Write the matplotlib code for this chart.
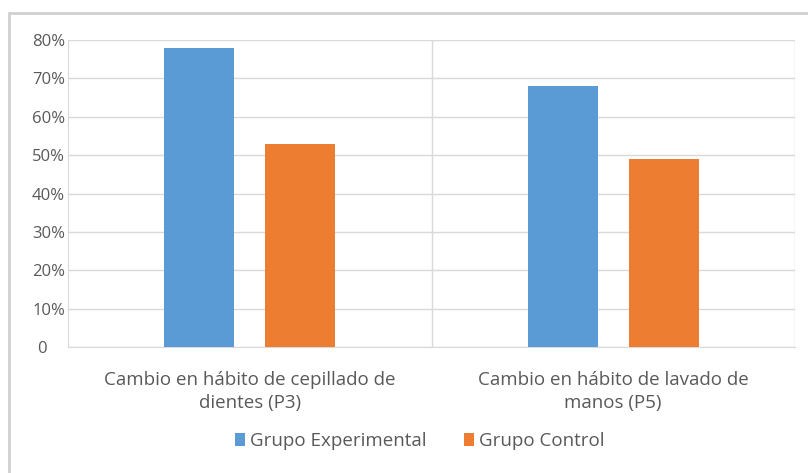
import numpy as np
import matplotlib.pyplot as plt
from matplotlib.patches import Rectangle

categories = ['Cambio en hábito de cepillado de\ndientes (P3)',
              'Cambio en hábito de lavado de\nmanos (P5)']
experimental = [78, 68]
control = [53, 49]
yticks = [0, 10, 20, 30, 40, 50, 60, 70, 80]
ytick_labels = ['0    ', '10%', '20%', '30%', '40%', '50%', '60%', '70%', '80%']

plt.rcParams['font.family'] = ['Open Sans', 'DejaVu Sans']
text_col = '#595959'
grid_col = '#d9d9d9'

fig = plt.figure(figsize=(8.08, 4.73), dpi=100)
# outer chart border
fig.patches.append(Rectangle((9 / 808, -0.01), 1.0, 1 - 13 / 473 + 0.01,
                             transform=fig.transFigure, fill=False,
                             edgecolor='#d0d0d0', linewidth=2))

ax = fig.add_axes([68 / 808, 126 / 473, 727 / 808, 307 / 473])
x = np.arange(len(categories))
w = 0.193
off = 0.139
b1 = ax.bar(x - off, experimental, w, color='#5b9bd5', label='Grupo Experimental', zorder=3)
b2 = ax.bar(x + off, control, w, color='#ed7d31', label='Grupo Control', zorder=3)

ax.set_xlim(-0.5, 1.5)
ax.set_ylim(0, 80)
ax.set_yticks(yticks)
ax.set_yticklabels(ytick_labels, color=text_col, fontsize=12)
ax.set_xticks(x)
ax.set_xticklabels(categories, color=text_col, fontsize=13.5, linespacing=1.4)
ax.tick_params(axis='both', length=0)
ax.tick_params(axis='x', pad=17)
ax.tick_params(axis='y', pad=2)

ax.grid(axis='y', color=grid_col, linewidth=1, zorder=0)
for xv in [0.5, 1.5]:
    ax.axvline(xv, color=grid_col, linewidth=1, zorder=0)
for s in ['top', 'right']:
    ax.spines[s].set_visible(False)
ax.spines['bottom'].set_color(grid_col)
ax.spines['left'].set_color(grid_col)

fig.legend(handles=[b1, b2], loc='center', bbox_to_anchor=(420 / 808, 1 - 441 / 473),
           ncol=2, frameon=False, fontsize=13.5, labelcolor=text_col,
           handlelength=0.5, handleheight=0.7, handletextpad=0.3, columnspacing=2.0)

plt.savefig('out.png', dpi=100)
